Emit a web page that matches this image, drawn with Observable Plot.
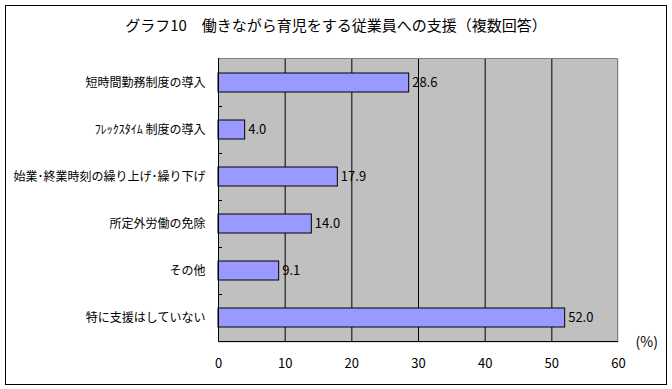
<!DOCTYPE html>
<html>
<head>
<meta charset="utf-8">
<script src="https://cdn.jsdelivr.net/npm/d3@7"></script>
<script src="https://cdn.jsdelivr.net/npm/@observablehq/plot@0.6"></script>
<style>
  html, body { margin: 0; padding: 0; background: #fff; }
  #wrap { position: relative; width: 672px; height: 389px; font-family: "Noto Sans CJK JP", sans-serif; }
  #border { position: absolute; left: 5px; top: 5px; width: 662px; height: 380px; box-sizing: border-box; border: 1px solid #000; pointer-events: none; }
  #title { position: absolute; left: 0; top: 14px; width: 672px; text-align: center; font-size: 15px; line-height: 22px; color: #000; }
  svg { display: block; }
</style>
</head>
<body>
<div id="wrap">
  <div id="chart"></div>
  <div id="title"></div>
  <div id="border"></div>
</div>
<script>
const titleText = "グラフ10　働きながら育児をする従業員への支援（複数回答）";
const categories = ["短時間勤務制度の導入", "ﾌﾚｯｸｽﾀｲﾑ 制度の導入", "始業･終業時刻の繰り上げ･繰り下げ", "所定外労働の免除", "その他", "特に支援はしていない"];
const values = [28.6, 4.0, 17.9, 14.0, 9.1, 52.0];
const xTicks = [0, 10, 20, 30, 40, 50, 60];
const gridTicks = [10, 20, 30, 40, 50];
const unitLabel = "(%)";

document.getElementById("title").textContent = titleText;

const data = categories.map((c, i) => ({label: c, value: values[i]}));

// custom frame borders and category boundary ticks
function frameAndTicks(index, scales, vals, dims) {
  const g = d3.create("svg:g");
  const x0 = dims.marginLeft, x1 = dims.width - dims.marginRight;
  const y0 = dims.marginTop, y1 = dims.height - dims.marginBottom;
  g.append("path").attr("d", `M${x0},${y0 + 0.5}H${x1 - 0.5}V${y1}`).attr("fill", "none").attr("stroke", "#808080");
  g.append("path").attr("d", `M${x0 + 0.5},${y0}V${y1 - 0.5}H${x1}`).attr("fill", "none").attr("stroke", "#000");
  const y = scales.y;
  const step = y.step(), bw = y.bandwidth();
  categories.slice(0, -1).forEach(c => {
    const yy = Math.round(y(c) + bw / 2 + step / 2) + 0.5;
    g.append("line").attr("x1", x0).attr("x2", x0 + 4).attr("y1", yy).attr("y2", yy).attr("stroke", "#000");
  });
  return g.node();
}

const chart = Plot.plot({
  width: 672,
  height: 389,
  marginLeft: 218,
  marginRight: 54,
  marginTop: 58,
  marginBottom: 47,
  style: {fontFamily: "'Noto Sans CJK JP', sans-serif", fontSize: "12px", color: "#000", background: "transparent"},
  x: {domain: [0, 60], ticks: xTicks, label: null},
  y: {domain: categories, paddingInner: 0.59, paddingOuter: 0.295, label: null},
  marks: [
    Plot.frame({fill: "#c0c0c0", stroke: "none"}),
    Plot.ruleX(gridTicks, {stroke: "#000", strokeWidth: 1}),
    Plot.barX(data, {x: "value", y: "label", fill: "#9999ff", stroke: "#000", strokeWidth: 1}),
    Plot.text(data, {x: "value", y: "label", text: d => d.value.toFixed(1), textAnchor: "start", dx: 3, fontSize: 13, fill: "#000"}),
    frameAndTicks,
    Plot.axisX({ticks: xTicks, tickSize: 0, tickPadding: 16, fontSize: 13, tickFormat: d => String(d)}),
    Plot.axisY({tickSize: 0, tickPadding: 13, fontSize: 12}),
    Plot.text([unitLabel], {frameAnchor: "bottom-right", dx: 17, dy: 4, textAnchor: "start", fontSize: 14, fill: "#000"})
  ]
});
document.getElementById("chart").appendChild(chart);
</script>
</body>
</html>
